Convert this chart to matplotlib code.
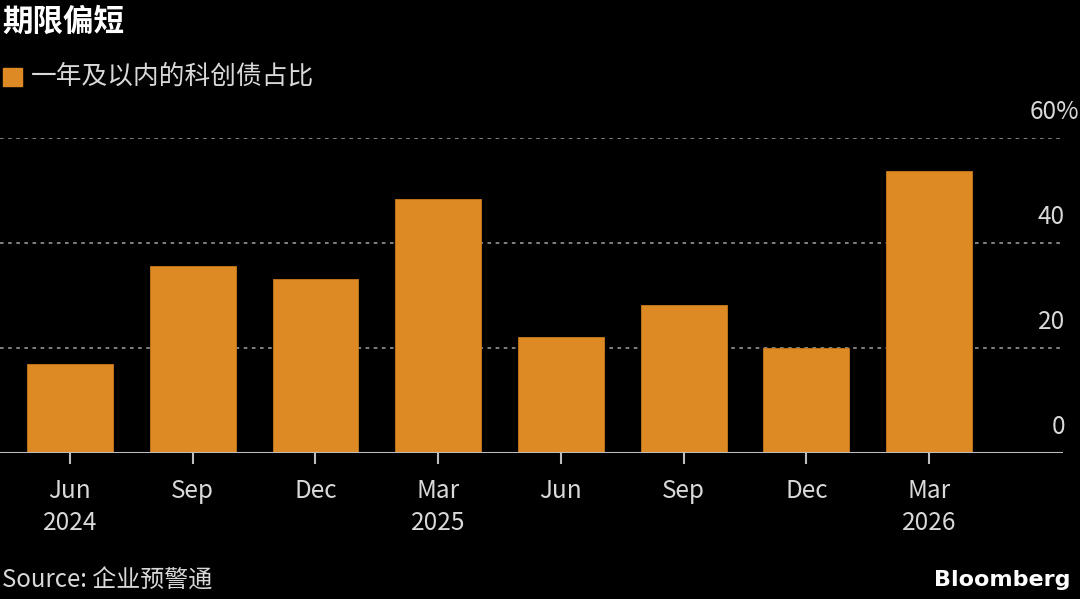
import numpy as np
import matplotlib.pyplot as plt

plt.rcParams['font.family'] = ['Noto Sans CJK SC', 'DejaVu Sans']

# Data
quarters = ["Jun\n2024", "Sep", "Dec", "Mar\n2025", "Jun", "Sep", "Dec", "Mar\n2026"]
short_share = [17.0, 35.6, 33.1, 48.4, 22.1, 28.2, 20.0, 53.7]
y_ticks = [0, 20, 40, 60]

title = "期限偏短"
legend_label = "一年及以内的科创债占比"
source = "Source: 企业预警通"

bar_color = "#dd8a24"
text_color = "#d9d9d9"

W, H = 1080, 599
fig = plt.figure(figsize=(W / 100, H / 100), dpi=100, facecolor="black")

# axes placed in pixel coords: left 0, right 1063, baseline 453, 60% at 138
ax = fig.add_axes([0, (H - 453) / H, 1063 / W, (453 - 138) / H])
ax.set_facecolor("black")

x = np.arange(len(quarters))
ax.bar(x, short_share, width=0.70, color=bar_color, edgecolor="#c97a1c",
       linewidth=0.6, zorder=3)

ax.set_xlim(-0.57, 8.09)
ax.set_ylim(0, 60)

# dotted gridlines
for v in y_ticks[1:]:
    ax.axhline(v, color="#8a8a8a", linestyle=(0, (2, 2.5)), linewidth=1.3, zorder=1)
ax.axhline(0, color="#bdbdbd", linewidth=1.5, zorder=4)

# y labels sit above each line at the right edge, top one carries the %
for v in y_ticks:
    if v == y_ticks[-1]:
        lab, dx = f"{v}%", 11.5
    else:
        lab, dx = str(v), 1.4
    ax.annotate(lab, xy=(1.0, v), xycoords=("axes fraction", "data"),
                xytext=(dx, 19), textcoords="offset points",
                ha="right", va="center", fontsize=17.5, color=text_color)

ax.set_yticks([])
ax.set_xticks(x)
ax.set_xticklabels(quarters, fontsize=17.5, color=text_color, linespacing=1.3)
ax.tick_params(axis="x", length=8, width=1.5, color="#bdbdbd", pad=10)
for s in ax.spines.values():
    s.set_visible(False)

# header
fig.text(2 / W, 1 - 22 / H, title, fontsize=22, fontweight="bold",
         color="white", ha="left", va="center")
fig.patches.append(plt.Rectangle((3 / W, 1 - 86 / H), 19 / W, 18 / H,
                                 transform=fig.transFigure, color=bar_color))
fig.text(31 / W, 1 - 77 / H, legend_label, fontsize=18.5, color=text_color,
         ha="left", va="center")

# footer
fig.text(2 / W, 1 - 581 / H, source, fontsize=17.3, color=text_color,
         ha="left", va="center")
fig.text(1070 / W, 1 - 580 / H, "Bloomberg", fontsize=16, fontweight="bold",
         color="white", ha="right", va="center", family="DejaVu Sans")

fig.savefig("out.png", dpi=100, facecolor="black")
